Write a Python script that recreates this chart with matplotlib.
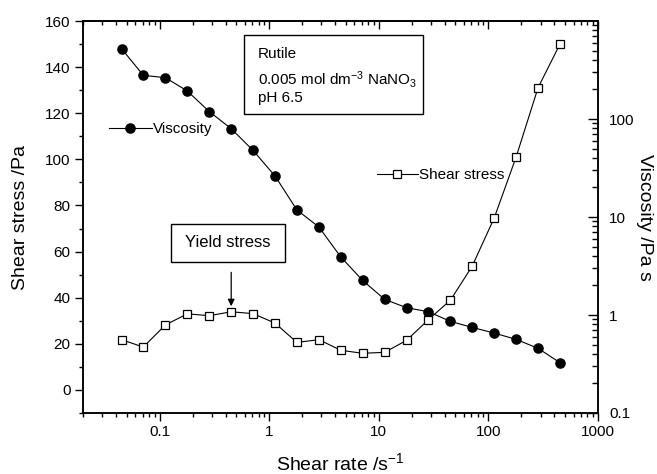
import matplotlib
matplotlib.use("Agg")
import matplotlib.pyplot as plt
from matplotlib.lines import Line2D
from matplotlib.patches import Rectangle
from matplotlib.ticker import FixedLocator, LogLocator, MultipleLocator, NullFormatter, FixedFormatter

plt.rcParams['font.family'] = ['Liberation Sans', 'DejaVu Sans']
plt.rcParams['mathtext.default'] = 'regular'

# ---- data ----
shear_rate = [0.045, 0.071, 0.113, 0.179, 0.284, 0.45, 0.71, 1.13, 1.79, 2.84,
              4.5, 7.1, 11.3, 17.9, 28.4, 45, 71, 113, 179, 284, 450]
shear_stress = [21.8, 18.6, 28.2, 33.0, 32.2, 33.9, 33.1, 29.0, 20.6, 21.8,
                17.2, 15.9, 16.3, 21.5, 30.5, 38.9, 53.6, 74.6, 101.0, 131.1, 150.0]
viscosity = [521, 279, 264, 193, 119, 79.6, 48, 26.2, 11.8, 7.9,
             3.91, 2.26, 1.445, 1.187, 1.08, 0.86, 0.748, 0.654, 0.564, 0.457, 0.326]

x_ticks = [0.1, 1, 10, 100, 1000]
x_ticklabels = ['0.1', '1', '10', '100', '1000']
left_ticks = [0, 20, 40, 60, 80, 100, 120, 140, 160]
right_ticks = [0.1, 1, 10, 100]
right_ticklabels = ['0.1', '1', '10', '100']

fig = plt.figure(figsize=(6.57, 4.74), dpi=100)
ax = fig.add_axes([83/657, 1-413/474, (598-83)/657, (413-21)/474])
ax2 = ax.twinx()
ax.set_zorder(ax2.get_zorder() + 1)
ax.patch.set_visible(False)

lw_sp = 1.1
for a in (ax, ax2):
    for s in a.spines.values():
        s.set_linewidth(lw_sp)

# shear stress (left)
ax.plot(shear_rate, shear_stress, color='black', lw=0.8, marker='s', ms=5.8,
        mfc='white', mec='black', mew=0.9, zorder=3)
# viscosity (right)
ax2.plot(shear_rate, viscosity, color='black', lw=0.8, marker='o', ms=6.6,
         mfc='black', mec='black', zorder=3)

ax.set_xscale('log')
ax.set_xlim(0.02, 1000)
ax.set_ylim(-10, 160)
ax2.set_yscale('log')
ax2.set_ylim(0.1, 1000)

# x ticks
ax.xaxis.set_major_locator(FixedLocator(x_ticks))
ax.xaxis.set_major_formatter(FixedFormatter(x_ticklabels))
ax.xaxis.set_minor_locator(LogLocator(base=10, subs=[2, 3, 4, 5, 6, 7, 8, 9]))
ax.xaxis.set_minor_formatter(NullFormatter())
ax.tick_params(axis='x', which='major', direction='out', length=6, width=1,
               labelsize=11, pad=3, top=False)
ax.tick_params(axis='x', which='minor', direction='out', length=3, width=1, top=False)

# top ticks inward
sec = ax.secondary_xaxis('top')
sec.xaxis.set_major_locator(FixedLocator(x_ticks))
sec.xaxis.set_minor_locator(LogLocator(base=10, subs=[2, 3, 4, 5, 6, 7, 8, 9]))
sec.xaxis.set_major_formatter(NullFormatter())
sec.xaxis.set_minor_formatter(NullFormatter())
sec.tick_params(axis='x', which='major', direction='in', length=6, width=1)
sec.tick_params(axis='x', which='minor', direction='in', length=3, width=1)
sec.spines['top'].set_linewidth(lw_sp)

# left y ticks
ax.yaxis.set_major_locator(FixedLocator(left_ticks))
ax.yaxis.set_minor_locator(MultipleLocator(10))
ax.tick_params(axis='y', which='major', direction='out', length=6, width=1,
               labelsize=11, pad=3, right=False)
ax.tick_params(axis='y', which='minor', direction='out', length=3, width=1, right=False)

# right y ticks
ax2.yaxis.set_major_locator(FixedLocator(right_ticks))
ax2.yaxis.set_major_formatter(FixedFormatter(right_ticklabels))
ax2.yaxis.set_minor_locator(LogLocator(base=10, subs=[2, 3, 4, 5, 6, 7, 8, 9]))
ax2.yaxis.set_minor_formatter(NullFormatter())
ax2.tick_params(axis='y', which='major', direction='in', length=7, width=1,
                labelsize=11, pad=8)
ax2.tick_params(axis='y', which='minor', direction='in', length=4, width=1)

# axis labels
ax.set_xlabel('Shear rate /s$^{-1}$', fontsize=14)
ax.xaxis.set_label_coords(0.5, -0.128)
ax.xaxis.label.set_va('center')
ax.set_ylabel('Shear stress /Pa', fontsize=14)
ax.yaxis.set_label_coords(-0.122, 0.5)
ax.yaxis.label.set_va('center')
ax2.set_ylabel('Viscosity /Pa s', fontsize=14, rotation=270)
ax2.yaxis.set_label_coords(1.091, 0.5)
ax2.yaxis.label.set_va('center')

# info box
ax.add_patch(Rectangle((0.3126, 0.763), 0.660-0.3126, 0.964-0.763,
                       transform=ax.transAxes, fill=False, lw=1.0, ec='black', zorder=4))
ax.text(0.340, 0.905, 'Rutile', transform=ax.transAxes, fontsize=11, va='baseline')
ax.text(0.340, 0.837, '0.005 mol dm$^{-3}$ NaNO$_3$', transform=ax.transAxes,
        fontsize=11, va='baseline')
ax.text(0.340, 0.794, 'pH 6.5', transform=ax.transAxes, fontsize=11, va='baseline')

# yield stress box
ax.add_patch(Rectangle((0.170, 0.384), 0.392-0.170, 0.482-0.384,
                       transform=ax.transAxes, fill=False, lw=1.0, ec='black', zorder=4))
ax.text(0.281, 0.434, 'Yield stress', transform=ax.transAxes, fontsize=12,
        ha='center', va='center')
ax.annotate('', xy=(shear_rate[5], 36.3), xytext=(shear_rate[5], 51),
            arrowprops=dict(arrowstyle='-|>', color='black', lw=0.9,
                            mutation_scale=10, shrinkA=0, shrinkB=0))

# legends
h_visc = Line2D([], [], color='black', lw=0.8, marker='o', ms=6.6, mfc='black')
h_ss = Line2D([], [], color='black', lw=0.8, marker='s', ms=5.2, mfc='white', mew=0.9)
leg1 = ax.legend([h_visc], ['Viscosity'], loc='center left',
                 bbox_to_anchor=(0.0505, 0.7245), frameon=False, fontsize=11,
                 handlelength=2.8, handletextpad=0.1, borderpad=0, borderaxespad=0)
ax.add_artist(leg1)
ax.legend([h_ss], ['Shear stress'], loc='center left',
          bbox_to_anchor=(0.570, 0.607), frameon=False, fontsize=11,
          handlelength=2.7, handletextpad=0.1, borderpad=0, borderaxespad=0)

fig.savefig('out.png', dpi=100)
